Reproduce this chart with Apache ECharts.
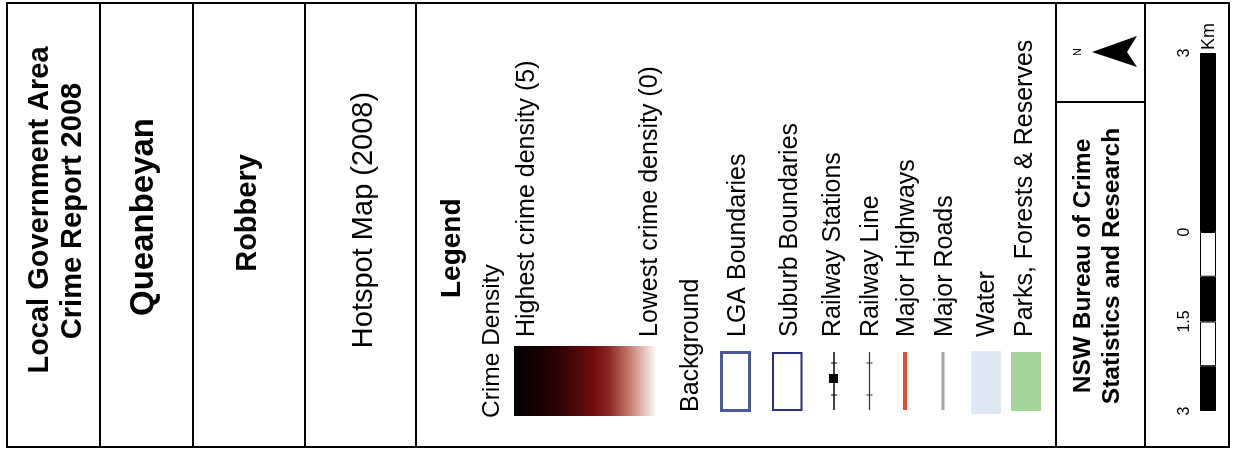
<!DOCTYPE html>
<html>
<head>
<meta charset="utf-8">
<script src="https://cdn.jsdelivr.net/npm/echarts@6/dist/echarts.min.js"></script>
<style>
html,body{margin:0;padding:0;background:#fff;}
#chart{width:1235px;height:451px;}
</style>
</head>
<body>
<div id="chart"></div>
<script>
// ---- data ----
var titleLines = ['Local Government Area', 'Crime Report 2008'];
var areaName = 'Queanbeyan';
var offenceName = 'Robbery';
var mapType = 'Hotspot Map (2008)';
var legendTitle = 'Legend';
var densityTitle = 'Crime Density';
var densityLabels = ['Highest crime density (5)', 'Lowest crime density (0)'];
var densityStops = [
  [0, '#000000'], [0.32, '#2e0303'], [0.55, '#6e0b0d'], [0.66, '#8a2420'],
  [0.82, '#c98376'], [1, '#ffffff']
];
var backgroundTitle = 'Background';
var itemLabels = ['LGA Boundaries', 'Suburb Boundaries', 'Railway Stations', 'Railway Line',
  'Major Highways', 'Major Roads', 'Water', 'Parks, Forests & Reserves'];
var agency = ['NSW Bureau of Crime', 'Statistics and Research'];
var scaleSegments = [3, -0.75, -0.75, -0.75, -0.75];
var scaleSegmentColors = ['#000000', '#ffffff', '#000000', '#ffffff', '#000000'];
var scaleTicks = [-3, -1.5, 0, 3];
var scaleUnit = 'Km';

// ---- drawing ----
var FF = '"Liberation Sans", Arial, Helvetica, sans-serif';
function vtext(str, x, y, size, weight, align) {
  return {
    type: 'text', x: x, y: y, rotation: Math.PI / 2,
    style: {
      text: str, fill: '#000',
      font: weight + ' ' + size + 'px ' + FF,
      align: align, textAlign: align,
      verticalAlign: 'middle', textVerticalAlign: 'middle'
    }
  };
}
function line(x1, y1, x2, y2, color, w) {
  return { type: 'line', shape: { x1: x1, y1: y1, x2: x2, y2: y2 },
    style: { stroke: color, lineWidth: w } };
}

var g = [];
// frame
g.push({ type: 'rect', shape: { x: 7, y: 3, width: 1222, height: 444 },
  style: { fill: 'none', stroke: '#000', lineWidth: 2 } });
[100, 193, 305, 416, 1056, 1145].forEach(function (x) { g.push(line(x, 3, x, 447, '#000', 2)); });
g.push(line(1056, 102, 1145, 102, '#000', 2));

// title columns
g.push(vtext(titleLines[0], 40, 210, 29, 'bold', 'center'));
g.push(vtext(titleLines[1], 73, 211, 29, 'bold', 'center'));
g.push(vtext(areaName, 144, 217, 33, 'bold', 'center'));
g.push(vtext(offenceName, 248, 213, 29, 'bold', 'center'));
g.push(vtext(mapType, 364, 220, 29, 'normal', 'center'));

// legend texts
g.push(vtext(legendTitle, 452, 298, 28, 'bold', 'left'));
g.push(vtext(densityTitle, 492, 418, 24.5, 'normal', 'left'));
g.push(vtext(densityLabels[0], 527, 337, 25, 'normal', 'left'));
g.push(vtext(densityLabels[1], 650, 337, 25, 'normal', 'left'));
g.push(vtext(backgroundTitle, 691, 412, 25, 'normal', 'left'));
var itemX = [738, 790, 833, 871, 907, 945, 987, 1025];
itemLabels.forEach(function (t, i) { g.push(vtext(t, itemX[i], 337, 25, 'normal', 'left')); });

// density gradient
g.push({ type: 'rect', shape: { x: 514, y: 346, width: 143, height: 70 },
  style: { fill: new echarts.graphic.LinearGradient(0, 0, 1, 0,
    densityStops.map(function (s) { return { offset: s[0], color: s[1] }; })) } });

// LGA & suburb boxes
g.push({ type: 'rect', shape: { x: 721.5, y: 352.5, width: 28, height: 58 },
  style: { fill: 'none', stroke: '#4b5a9b', lineWidth: 3 } });
g.push({ type: 'rect', shape: { x: 773, y: 353, width: 28.5, height: 57 },
  style: { fill: 'none', stroke: '#2b2e7e', lineWidth: 2 } });
// railway stations
g.push(line(834, 352, 834, 410, '#000', 1.5));
g.push(line(831, 363, 837, 363, '#000', 1));
g.push(line(831, 395, 837, 395, '#000', 1));
g.push({ type: 'rect', shape: { x: 829, y: 374, width: 9, height: 9 }, style: { fill: '#000' } });
// railway line
g.push(line(869.5, 352, 869.5, 410, '#333', 1.2));
g.push(line(866.5, 363, 872.5, 363, '#333', 1));
g.push(line(866.5, 395, 872.5, 395, '#333', 1));
// highways, roads
g.push(line(905, 352, 905, 410, '#f0492d', 4));
g.push(line(943, 352, 943, 410, '#a2a5a9', 3));
// water, parks
g.push({ type: 'rect', shape: { x: 971, y: 351, width: 30, height: 63 }, style: { fill: '#dde8f4' } });
g.push({ type: 'rect', shape: { x: 1011, y: 352, width: 30, height: 59 }, style: { fill: '#a6d59c' } });

// agency
g.push(vtext(agency[0], 1083, 266, 24.5, 'bold', 'center'));
g.push(vtext(agency[1], 1112, 266, 24.5, 'bold', 'center'));

// north arrow
g.push({ type: 'polygon', shape: { points: [[1092, 52], [1137, 36], [1127, 52], [1137, 67]] },
  style: { fill: '#000' } });
g.push(vtext('N', 1078, 52, 11, 'normal', 'center'));

// scale unit
g.push(vtext(scaleUnit, 1209, 50, 18, 'normal', 'left'));

var chart = echarts.init(document.getElementById('chart'), null, { renderer: 'canvas' });
chart.setOption({
  animation: false,
  backgroundColor: '#fff',
  grid: { left: 1200, width: 16, top: 53, height: 358 },
  xAxis: { type: 'category', data: ['scale'], show: false },
  yAxis: {
    type: 'value', min: -3, max: 3,
    axisLine: { show: false }, axisTick: { show: false }, splitLine: { show: false },
    axisLabel: {
      customValues: scaleTicks, rotate: 90, margin: 7,
      fontSize: 16, fontFamily: 'Liberation Sans', color: '#000',
      formatter: function (v) { return String(Math.abs(v)); }
    }
  },
  series: scaleSegments.map(function (v, i) {
    return {
      type: 'bar', stack: 'scale', barWidth: 16, data: [v],
      itemStyle: { color: scaleSegmentColors[i], borderColor: '#000', borderWidth: 1 },
      silent: true
    };
  }),
  graphic: { elements: g }
});
</script>
</body>
</html>
